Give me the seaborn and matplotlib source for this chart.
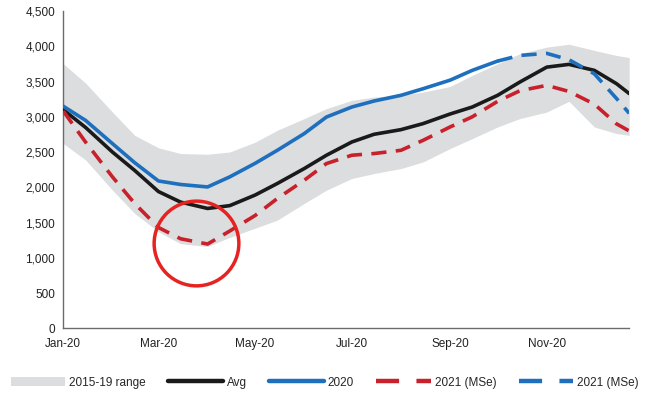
import pandas as pd
import matplotlib.pyplot as plt
import matplotlib.dates as mdates
from matplotlib.lines import Line2D
from matplotlib.patches import Patch
import seaborn as sns

# semi-monthly readings, 2020 calendar
dates = pd.to_datetime([
    "2020-01-01", "2020-01-15", "2020-02-01", "2020-02-15", "2020-03-01",
    "2020-03-15", "2020-04-01", "2020-04-15", "2020-05-01", "2020-05-15",
    "2020-06-01", "2020-06-15", "2020-07-01", "2020-07-15", "2020-08-01",
    "2020-08-15", "2020-09-01", "2020-09-15", "2020-10-01", "2020-10-15",
    "2020-11-01", "2020-11-15", "2020-12-01", "2020-12-15", "2020-12-23"])

range_low = [2620, 2390, 1960, 1630, 1370, 1200, 1160, 1290, 1420, 1534,
             1771, 1959, 2125, 2195, 2266, 2360, 2550, 2691, 2856, 2975,
             3068, 3220, 2856, 2762, 2738]
range_high = [3753, 3480, 3068, 2738, 2560, 2479, 2469, 2501, 2640, 2809,
              2975, 3116, 3234, 3280, 3305, 3351, 3430, 3588, 3753, 3895,
              3989, 4030, 3942, 3871, 3840]
avg = [3100, 2850, 2500, 2240, 1940, 1790, 1700, 1740, 1890, 2054,
       2266, 2455, 2643, 2752, 2818, 2904, 3040, 3139, 3305, 3493,
       3705, 3744, 3659, 3470, 3330]
y2020 = [3150, 2950, 2620, 2350, 2090, 2040, 2005, 2148, 2340, 2525,
         2762, 2997, 3139, 3224, 3305, 3399, 3520, 3659, 3791]
mse_2021_red = [3080, 2643, 2148, 1771, 1430, 1270, 1195, 1380, 1600, 1841,
                2100, 2337, 2455, 2479, 2525, 2667, 2856, 3000, 3220, 3370,
                3446, 3360, 3180, 2900, 2800]
mse_2021_blue = [3791, 3871, 3900, 3810, 3610, 3260, 3050]
mse_blue_dates = dates[18:]

# circled trough
circle_date = pd.to_datetime(["2020-03-25"])
circle_value = [1208]

sns.set_style("white")
plt.rcParams["font.family"] = ["Liberation Sans", "DejaVu Sans"]

fig, ax = plt.subplots(figsize=(6.5, 3.96), dpi=100)
fig.subplots_adjust(left=0.0974, right=0.968, top=0.972, bottom=0.171)

grey = "#dcddde"
blue = "#1e6fbe"
red = "#c8212b"

ax.fill_between(dates, range_low, range_high, color=grey, lw=0, zorder=1)
sns.lineplot(x=dates, y=avg, ax=ax, color="#1a1a1a", lw=2.6, zorder=3)
sns.lineplot(x=dates[:len(y2020)], y=y2020, ax=ax, color=blue, lw=2.6, zorder=3)
sns.lineplot(x=dates, y=mse_2021_red, ax=ax, color=red, lw=2.6,
             linestyle=(0, (4.2, 2.6)), zorder=3)
sns.lineplot(x=mse_blue_dates, y=mse_2021_blue, ax=ax, color=blue, lw=2.6,
             linestyle=(0, (4.2, 2.6)), zorder=4)
ax.plot(circle_date, circle_value, marker="o", ms=61, mfc="none",
        mec="#e52421", mew=2.5, ls="none", zorder=5)

ax.set_xlim(pd.Timestamp("2020-01-01"), pd.Timestamp("2020-12-23"))
ax.set_ylim(0, 4500)
ax.set_yticks(range(0, 4501, 500))
ax.yaxis.set_major_formatter(plt.FuncFormatter(lambda v, p: f"{int(v):,}"))
ax.xaxis.set_major_locator(mdates.MonthLocator(bymonth=[1, 3, 5, 7, 9, 11]))
ax.xaxis.set_major_formatter(mdates.DateFormatter("%b-%y"))
ax.set_xlabel("")
ax.set_ylabel("")
ax.grid(False)

for side in ["top", "right"]:
    ax.spines[side].set_visible(False)
for side in ["left", "bottom"]:
    ax.spines[side].set_color("#6b6b6b")
    ax.spines[side].set_linewidth(1.0)
ax.tick_params(axis="both", direction="out", length=4, width=1.0,
               color="#6b6b6b", labelsize=8.5, labelcolor="#222222", pad=3)
ax.tick_params(axis="y", pad=2)

handles = [
    Patch(facecolor=grey, edgecolor="none"),
    Line2D([], [], color="#1a1a1a", lw=3.2),
    Line2D([], [], color=blue, lw=3.2),
    Line2D([], [], color=red, lw=3.2, linestyle=(0, (5.2, 3.9))),
    Line2D([], [], color=blue, lw=3.2, linestyle=(0, (5.2, 3.9))),
]
labels = ["2015-19 range", "Avg", "2020", "2021 (MSe)", "2021 (MSe)"]
fig.legend(handles, labels, loc="center", bbox_to_anchor=(0.5, 0.034),
           ncol=5, frameon=False, fontsize=8.5, handlelength=4.6,
           handletextpad=0.35, columnspacing=1.9, borderaxespad=0)

plt.savefig("out.png", dpi=100)
